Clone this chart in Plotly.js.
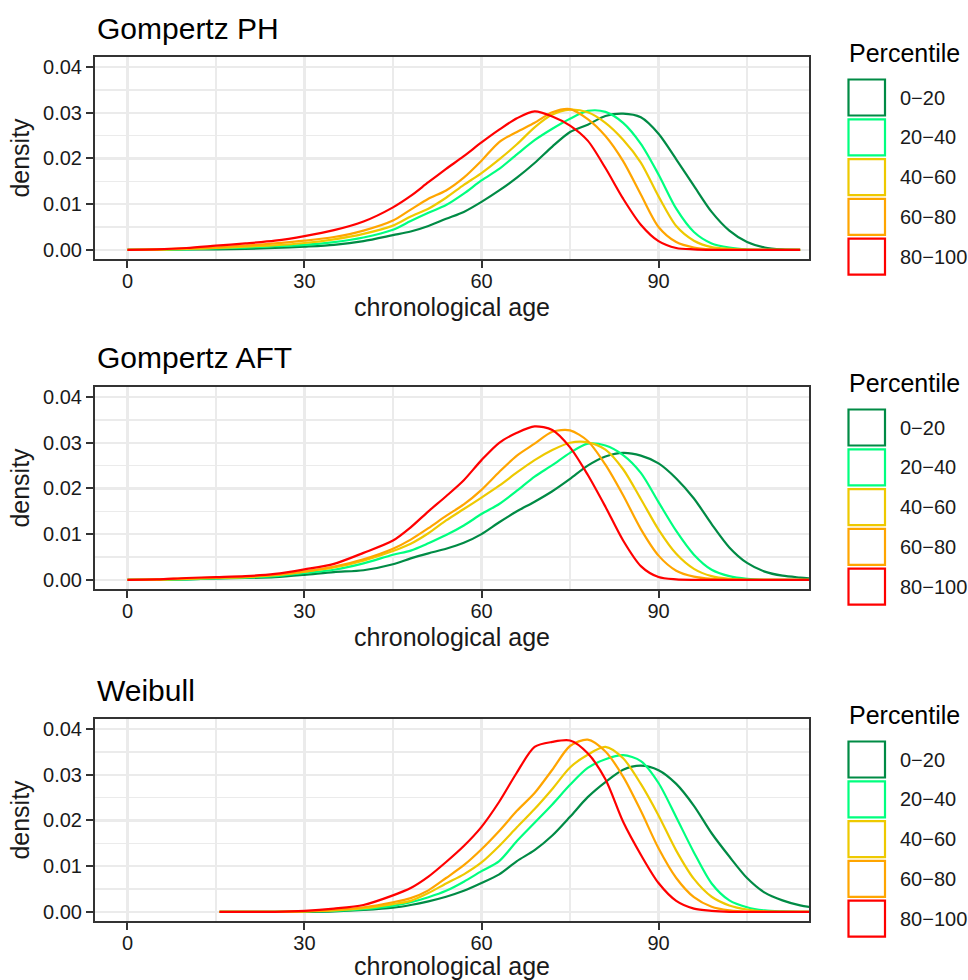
<!DOCTYPE html>
<html>
<head>
<meta charset="utf-8">
<script src="https://cdn.plot.ly/plotly-3.0.1.min.js"></script>
<style>html,body{margin:0;padding:0;background:#fff;}#chart{width:968px;height:980px;}</style>
</head>
<body>
<div id="chart"></div>
<script>
// ---------- data ----------
const percentiles = ['0\u221220', '20\u221240', '40\u221260', '60\u221280', '80\u2212100'];
const colors = ['#008B45', '#00FF7F', '#EEC900', '#FFA500', '#FF0000'];
const panelTitles = ['Gompertz PH', 'Gompertz AFT', 'Weibull'];
const legendTitle = 'Percentile';
const xLabel = 'chronological age';
const yLabel = 'density';

// Gompertz PH
const agePH = [0,5,10,15,20,25,30,35,40,45,48,51,54,57,60,63,66,69,72,75,78,81,84,87,90,93,96,99,102,105,108,111,114];
const ph020   = [0,0,0.0001,0.0001,0.0002,0.0004,0.0007,0.0011,0.0019,0.0032,0.0040,0.0052,0.0068,0.0083,0.0105,0.0130,0.0158,0.0190,0.0226,0.0258,0.0274,0.0293,0.0298,0.0290,0.0254,0.0198,0.0140,0.0083,0.0042,0.0017,0.0005,0.0001,0];
const ph2040  = [0,0,0.0001,0.0003,0.0005,0.0008,0.0011,0.0017,0.0027,0.0044,0.0063,0.0081,0.0098,0.0123,0.0152,0.0177,0.0209,0.0240,0.0265,0.0287,0.0304,0.0302,0.0278,0.0232,0.0165,0.0090,0.0039,0.0014,0.0005,0.0001,0,0,0];
const ph4060  = [0,0,0.0002,0.0004,0.0007,0.0010,0.0015,0.0023,0.0035,0.0053,0.0073,0.0090,0.0114,0.0142,0.0168,0.0198,0.0231,0.0268,0.0296,0.0307,0.0301,0.0278,0.0241,0.0191,0.0117,0.0052,0.0020,0.0006,0.0002,0,0,0,0];
const ph6080  = [0,0.0001,0.0003,0.0005,0.0009,0.0014,0.0020,0.0028,0.0042,0.0064,0.0088,0.0112,0.0130,0.0158,0.0195,0.0236,0.0258,0.0278,0.0301,0.0308,0.0286,0.0249,0.0194,0.0121,0.0050,0.0017,0.0005,0.0001,0,0,0,0,0];
const ph80100 = [0,0.0001,0.0004,0.0009,0.0014,0.0020,0.0030,0.0043,0.0062,0.0093,0.0118,0.0148,0.0177,0.0205,0.0235,0.0263,0.0288,0.0303,0.0292,0.0272,0.0239,0.0179,0.0112,0.0055,0.0019,0.0004,0.0001,0,0,0,0,0,0];

// Gompertz AFT
const ageAFT = [0,5,10,15,20,25,30,35,40,45,48,51,54,57,60,63,66,69,72,75,78,81,84,87,90,93,96,99,102,105,108,111,114,117];
const aft020   = [0,0,0.0001,0.0003,0.0004,0.0006,0.0011,0.0017,0.0021,0.0034,0.0047,0.0058,0.0068,0.0081,0.0100,0.0126,0.0150,0.0171,0.0194,0.0221,0.0250,0.0270,0.0278,0.0272,0.0255,0.0222,0.0178,0.0122,0.0071,0.0037,0.0018,0.0009,0.0005,0.0002];
const aft2040  = [0,0,0.0001,0.0003,0.0005,0.0008,0.0015,0.0022,0.0036,0.0055,0.0064,0.0080,0.0098,0.0119,0.0144,0.0166,0.0195,0.0226,0.0251,0.0278,0.0298,0.0294,0.0273,0.0234,0.0170,0.0107,0.0055,0.0022,0.0008,0.0002,0,0,0,0];
const aft4060  = [0,0,0.0002,0.0004,0.0006,0.0010,0.0018,0.0027,0.0042,0.0063,0.0079,0.0102,0.0130,0.0155,0.0180,0.0206,0.0235,0.0262,0.0284,0.0300,0.0301,0.0285,0.0242,0.0177,0.0110,0.0057,0.0024,0.0008,0.0002,0,0,0,0,0];
const aft6080  = [0,0.0001,0.0003,0.0005,0.0007,0.0011,0.0018,0.0029,0.0045,0.0068,0.0088,0.0113,0.0140,0.0165,0.0197,0.0236,0.0272,0.0298,0.0324,0.0327,0.0304,0.0252,0.0185,0.0111,0.0053,0.0020,0.0007,0.0002,0,0,0,0,0,0];
const aft80100 = [0,0.0001,0.0004,0.0006,0.0008,0.0013,0.0023,0.0035,0.0059,0.0086,0.0115,0.0150,0.0183,0.0218,0.0262,0.0300,0.0322,0.0336,0.0328,0.0290,0.0230,0.0160,0.0086,0.0030,0.0006,0.0001,0,0,0,0,0,0,0,0];

// Weibull
const ageWB = [15.6,20,25,30,35,40,45,48,51,54,57,60,63,66,69,72,75,78,81,84,87,90,93,96,99,102,105,108,111,114,117];
const wb020   = [0,0,0,0,0.0001,0.0004,0.0009,0.0015,0.0023,0.0033,0.0046,0.0063,0.0082,0.0111,0.0135,0.0167,0.0208,0.0251,0.0284,0.0311,0.0320,0.0310,0.0280,0.0232,0.0172,0.0121,0.0074,0.0042,0.0025,0.0014,0.0008];
const wb2040  = [0,0,0,0.0001,0.0002,0.0006,0.0013,0.0021,0.0032,0.0046,0.0066,0.0089,0.0111,0.0155,0.0195,0.0235,0.0278,0.0315,0.0334,0.0343,0.0330,0.0282,0.0207,0.0130,0.0062,0.0025,0.0010,0.0003,0.0001,0,0];
const wb4060  = [0,0,0,0.0001,0.0003,0.0008,0.0017,0.0024,0.0041,0.0062,0.0082,0.0108,0.0144,0.0185,0.0225,0.0269,0.0316,0.0344,0.0361,0.0336,0.0280,0.0211,0.0134,0.0072,0.0033,0.0014,0.0005,0.0001,0,0,0];
const wb6080  = [0,0,0,0.0001,0.0004,0.0010,0.0021,0.0030,0.0047,0.0074,0.0102,0.0137,0.0177,0.0221,0.0260,0.0311,0.0363,0.0377,0.0351,0.0296,0.0221,0.0139,0.0074,0.0032,0.0011,0.0003,0,0,0,0,0];
const wb80100 = [0,0,0,0.0002,0.0007,0.0015,0.0036,0.0052,0.0077,0.0109,0.0144,0.0186,0.0241,0.0305,0.0361,0.0372,0.0375,0.0347,0.0290,0.0197,0.0125,0.0063,0.0024,0.0007,0.0002,0,0,0,0,0,0];

const xTickVals = [0, 30, 60, 90];
const yTickVals = [0, 0.01, 0.02, 0.03, 0.04];

// ---------- build ----------
const W = 968, H = 980;
const px = v => v / W;
const py = v => 1 - v / H;
const plotLeft = 95, plotRight = 809;
const panelTops = [57, 387, 719];
const panelH = 202;

const panels = [
  {ages: agePH, series: [ph020, ph2040, ph4060, ph6080, ph80100]},
  {ages: ageAFT, series: [aft020, aft2040, aft4060, aft6080, aft80100]},
  {ages: ageWB, series: [wb020, wb2040, wb4060, wb6080, wb80100]}
];

const FONT = 'Liberation Sans, Arial, Helvetica, sans-serif';
const TXT = '#1A1A1A';
const traces = [];
const layout = {
  width: W, height: H,
  margin: {l: 0, r: 0, t: 0, b: 0},
  paper_bgcolor: '#FFFFFF', plot_bgcolor: '#FFFFFF',
  showlegend: false,
  font: {family: FONT, color: TXT},
  annotations: [], shapes: []
};

panels.forEach((p, i) => {
  const sfx = i === 0 ? '' : String(i + 1);
  p.series.forEach((ys, k) => {
    traces.push({
      type: 'scatter', mode: 'lines',
      x: p.ages, y: ys,
      xaxis: 'x' + sfx, yaxis: 'y' + sfx,
      name: percentiles[k],
      line: {color: colors[k], width: 2.2, shape: 'spline', smoothing: 0.8},
      hoverinfo: 'x+y+name'
    });
  });
  const top = panelTops[i];
  const common = {
    showline: true, mirror: true, linecolor: '#333333', linewidth: 2,
    ticks: 'outside', ticklen: 7, tickwidth: 2, tickcolor: '#333333',
    showgrid: true, gridcolor: '#EBEBEB', gridwidth: 2.2,
    zeroline: false, automargin: false,
    tickfont: {family: FONT, size: 20, color: TXT}
  };
  layout['xaxis' + sfx] = Object.assign({}, common, {
    domain: [px(plotLeft), px(plotRight)],
    anchor: 'y' + sfx,
    range: [-5.5, 115.5],
    ticklabelstandoff: -4,
    tickmode: 'array', tickvals: xTickVals, ticktext: xTickVals.map(String),
    minor: {tickmode: 'array', tickvals: [15, 45, 75, 105], showgrid: true, gridcolor: '#EBEBEB', gridwidth: 1.2, ticks: ''},
    title: {text: xLabel, font: {family: FONT, size: 25, color: TXT}, standoff: 7}
  });
  layout['yaxis' + sfx] = Object.assign({}, common, {
    domain: [py(top + panelH), py(top)],
    anchor: 'x' + sfx,
    range: [-0.00201, 0.04221],
    tickmode: 'array', tickvals: yTickVals, ticktext: yTickVals.map(v => v.toFixed(2)),
    minor: {tickmode: 'array', tickvals: [0.005, 0.015, 0.025, 0.035], showgrid: true, gridcolor: '#EBEBEB', gridwidth: 1.2, ticks: ''},
    title: {text: yLabel, font: {family: FONT, size: 25, color: TXT}, standoff: 6}
  });
  // panel title
  layout.annotations.push({
    xref: 'paper', yref: 'paper', x: px(plotLeft), y: py(top - 29),
    xanchor: 'left', yanchor: 'middle', showarrow: false,
    text: panelTitles[i], font: {family: FONT, size: 30, color: '#000'}
  });
  // legend
  layout.annotations.push({
    xref: 'paper', yref: 'paper', x: px(847), y: py(top - 4),
    xanchor: 'left', yanchor: 'middle', showarrow: false,
    text: legendTitle, font: {family: FONT, size: 25, color: '#000'}
  });
  percentiles.forEach((lab, k) => {
    const cy = top + 40.5 + 39.8 * k;
    layout.shapes.push({
      type: 'rect', xref: 'paper', yref: 'paper',
      x0: px(848.5), x1: px(885), y0: py(cy + 18), y1: py(cy - 18),
      line: {color: colors[k], width: 2.2}, fillcolor: '#FFFFFF'
    });
    layout.annotations.push({
      xref: 'paper', yref: 'paper', x: px(898), y: py(cy),
      xanchor: 'left', yanchor: 'middle', showarrow: false,
      text: lab, font: {family: FONT, size: 20, color: TXT}
    });
  });
});

Plotly.newPlot('chart', traces, layout, {displayModeBar: false, staticPlot: true});
</script>
</body>
</html>
